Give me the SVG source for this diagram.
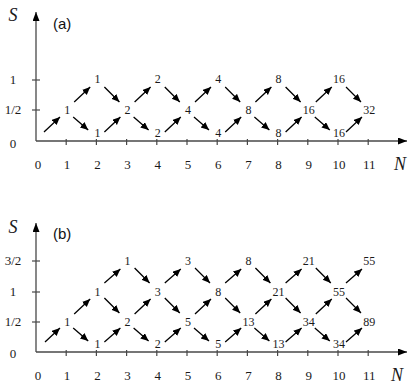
<svg xmlns="http://www.w3.org/2000/svg" width="416" height="390" viewBox="0 0 416 390">
<style>
.ax{stroke:#484848;stroke-width:1.3;fill:none}
.tk{stroke:#484848;stroke-width:1.2}
.arr line{stroke:#000;stroke-width:1.3}
.num{font-family:"Liberation Serif",serif;font-size:12px;fill:#1a1a1a;text-anchor:middle}
.lab{font-family:"Liberation Serif",serif;font-size:13px;fill:#1a1a1a;text-anchor:middle}
.var{font-family:"Liberation Serif",serif;font-size:18px;font-style:italic;fill:#1a1a1a;text-anchor:middle}
.pl{font-family:"Liberation Sans",Arial,sans-serif;font-size:15px;fill:#111}
</style>
<defs>
<marker id="ah" markerUnits="userSpaceOnUse" markerWidth="9" markerHeight="8" refX="8" refY="3.5" orient="auto"><path d="M0,0 L8,3.5 L0,7 Z" fill="#000"/></marker>
<marker id="axh" markerUnits="userSpaceOnUse" markerWidth="10" markerHeight="8" refX="9" refY="3.5" orient="auto"><path d="M0,0 L9,3.5 L0,7 Z" fill="#000"/></marker>
</defs>

<!-- Panel (a) axes -->
<g id="axes-a">
<line class="ax" x1="36" y1="141" x2="36" y2="12" marker-end="url(#axh)"/>
<line class="ax" x1="36" y1="141" x2="407" y2="141" marker-end="url(#axh)"/>
<line class="tk" x1="32" y1="80" x2="40" y2="80"/>
<line class="tk" x1="32" y1="110" x2="40" y2="110"/>
<line class="tk" x1="66.2" y1="139" x2="66.2" y2="145"/>
<line class="tk" x1="96.4" y1="139" x2="96.4" y2="145"/>
<line class="tk" x1="126.6" y1="139" x2="126.6" y2="145"/>
<line class="tk" x1="156.8" y1="139" x2="156.8" y2="145"/>
<line class="tk" x1="187" y1="139" x2="187" y2="145"/>
<line class="tk" x1="217.2" y1="139" x2="217.2" y2="145"/>
<line class="tk" x1="247.4" y1="139" x2="247.4" y2="145"/>
<line class="tk" x1="277.6" y1="139" x2="277.6" y2="145"/>
<line class="tk" x1="307.8" y1="139" x2="307.8" y2="145"/>
<line class="tk" x1="338" y1="139" x2="338" y2="145"/>
<line class="tk" x1="368.2" y1="139" x2="368.2" y2="145"/>
<text class="var" x="13" y="21">S</text>
<text class="pl" x="53" y="29">(a)</text>
<text class="lab" x="13" y="84">1</text>
<text class="lab" x="13" y="114">1/2</text>
<text class="lab" x="13" y="148">0</text>
<text class="lab" x="38" y="169">0</text>
<text class="lab" x="67" y="169">1</text>
<text class="lab" x="97.4" y="169">2</text>
<text class="lab" x="127.6" y="169">3</text>
<text class="lab" x="157.8" y="169">4</text>
<text class="lab" x="188" y="169">5</text>
<text class="lab" x="218.2" y="169">6</text>
<text class="lab" x="248.4" y="169">7</text>
<text class="lab" x="278.6" y="169">8</text>
<text class="lab" x="308.8" y="169">9</text>
<text class="lab" x="339" y="169">10</text>
<text class="lab" x="369.2" y="169">11</text>
<text class="var" x="400" y="170">N</text>
</g>

<!-- Panel (a) nodes -->
<g id="a-n1-h"><text class="num" x="67.2" y="114">1</text></g>
<g id="a-n2-1"><text class="num" x="97.4" y="83">1</text></g>
<g id="a-n2-0"><text class="num" x="97.4" y="137">1</text></g>
<g id="a-n3-h"><text class="num" x="127.6" y="114">2</text></g>
<g id="a-n4-1"><text class="num" x="157.8" y="83">2</text></g>
<g id="a-n4-0"><text class="num" x="157.8" y="137">2</text></g>
<g id="a-n5-h"><text class="num" x="188" y="114">4</text></g>
<g id="a-n6-1"><text class="num" x="218.2" y="83">4</text></g>
<g id="a-n6-0"><text class="num" x="218.2" y="137">4</text></g>
<g id="a-n7-h"><text class="num" x="248.4" y="114">8</text></g>
<g id="a-n8-1"><text class="num" x="278.6" y="83">8</text></g>
<g id="a-n8-0"><text class="num" x="278.6" y="137">8</text></g>
<g id="a-n9-h"><text class="num" x="308.8" y="114">16</text></g>
<g id="a-n10-1"><text class="num" x="339" y="83">16</text></g>
<g id="a-n10-0"><text class="num" x="339" y="137">16</text></g>
<g id="a-n11-h"><text class="num" x="369.2" y="114">32</text></g>

<!-- Panel (a) connectors -->
<g id="connectors-a" class="arr" marker-end="url(#ah)">
<line x1="44" y1="132" x2="60" y2="117" marker-end="url(#ah)"/>
<line x1="104.4" y1="132" x2="120.4" y2="117" marker-end="url(#ah)"/>
<line x1="164.8" y1="132" x2="180.8" y2="117" marker-end="url(#ah)"/>
<line x1="225.2" y1="132" x2="241.2" y2="117" marker-end="url(#ah)"/>
<line x1="285.6" y1="132" x2="301.6" y2="117" marker-end="url(#ah)"/>
<line x1="346" y1="132" x2="362" y2="117" marker-end="url(#ah)"/>
<line x1="73.2" y1="117" x2="88.2" y2="130" marker-end="url(#ah)"/>
<line x1="133.6" y1="117" x2="148.6" y2="130" marker-end="url(#ah)"/>
<line x1="194" y1="117" x2="209" y2="130" marker-end="url(#ah)"/>
<line x1="254.4" y1="117" x2="269.4" y2="130" marker-end="url(#ah)"/>
<line x1="314.8" y1="117" x2="329.8" y2="130" marker-end="url(#ah)"/>
<line x1="74.2" y1="102" x2="90.2" y2="87" marker-end="url(#ah)"/>
<line x1="134.6" y1="102" x2="150.6" y2="87" marker-end="url(#ah)"/>
<line x1="195" y1="102" x2="211" y2="87" marker-end="url(#ah)"/>
<line x1="255.4" y1="102" x2="271.4" y2="87" marker-end="url(#ah)"/>
<line x1="315.8" y1="102" x2="331.8" y2="87" marker-end="url(#ah)"/>
<line x1="104.4" y1="87" x2="119.4" y2="102" marker-end="url(#ah)"/>
<line x1="164.8" y1="87" x2="179.8" y2="102" marker-end="url(#ah)"/>
<line x1="225.2" y1="87" x2="240.2" y2="102" marker-end="url(#ah)"/>
<line x1="285.6" y1="87" x2="300.6" y2="102" marker-end="url(#ah)"/>
<line x1="346" y1="87" x2="361" y2="102" marker-end="url(#ah)"/>
</g>

<!-- Panel (b) axes -->
<g id="axes-b">
<line class="ax" x1="36" y1="352" x2="36" y2="223" marker-end="url(#axh)"/>
<line class="ax" x1="36" y1="352" x2="407" y2="352" marker-end="url(#axh)"/>
<line class="tk" x1="32" y1="261" x2="40" y2="261"/>
<line class="tk" x1="32" y1="292" x2="40" y2="292"/>
<line class="tk" x1="32" y1="322" x2="40" y2="322"/>
<line class="tk" x1="66.2" y1="350" x2="66.2" y2="356"/>
<line class="tk" x1="96.4" y1="350" x2="96.4" y2="356"/>
<line class="tk" x1="126.6" y1="350" x2="126.6" y2="356"/>
<line class="tk" x1="156.8" y1="350" x2="156.8" y2="356"/>
<line class="tk" x1="187" y1="350" x2="187" y2="356"/>
<line class="tk" x1="217.2" y1="350" x2="217.2" y2="356"/>
<line class="tk" x1="247.4" y1="350" x2="247.4" y2="356"/>
<line class="tk" x1="277.6" y1="350" x2="277.6" y2="356"/>
<line class="tk" x1="307.8" y1="350" x2="307.8" y2="356"/>
<line class="tk" x1="338" y1="350" x2="338" y2="356"/>
<line class="tk" x1="368.2" y1="350" x2="368.2" y2="356"/>
<text class="var" x="13" y="233">S</text>
<text class="pl" x="53" y="239">(b)</text>
<text class="lab" x="13" y="265">3/2</text>
<text class="lab" x="13" y="296">1</text>
<text class="lab" x="13" y="326">1/2</text>
<text class="lab" x="13" y="358">0</text>
<text class="lab" x="38" y="380">0</text>
<text class="lab" x="67" y="380">1</text>
<text class="lab" x="97.4" y="380">2</text>
<text class="lab" x="127.6" y="380">3</text>
<text class="lab" x="157.8" y="380">4</text>
<text class="lab" x="188" y="380">5</text>
<text class="lab" x="218.2" y="380">6</text>
<text class="lab" x="248.4" y="380">7</text>
<text class="lab" x="278.6" y="380">8</text>
<text class="lab" x="308.8" y="380">9</text>
<text class="lab" x="339" y="380">10</text>
<text class="lab" x="369.2" y="380">11</text>
<text class="var" x="397" y="381">N</text>
</g>

<!-- Panel (b) nodes -->
<g id="b-n1-h"><text class="num" x="67.2" y="326">1</text></g>
<g id="b-n2-1"><text class="num" x="97.4" y="296">1</text></g>
<g id="b-n2-0"><text class="num" x="97.4" y="348">1</text></g>
<g id="b-n3-3h"><text class="num" x="127.6" y="265">1</text></g>
<g id="b-n3-h"><text class="num" x="127.6" y="326">2</text></g>
<g id="b-n4-1"><text class="num" x="157.8" y="296">3</text></g>
<g id="b-n4-0"><text class="num" x="157.8" y="348">2</text></g>
<g id="b-n5-3h"><text class="num" x="188" y="265">3</text></g>
<g id="b-n5-h"><text class="num" x="188" y="326">5</text></g>
<g id="b-n6-1"><text class="num" x="218.2" y="296">8</text></g>
<g id="b-n6-0"><text class="num" x="218.2" y="348">5</text></g>
<g id="b-n7-3h"><text class="num" x="248.4" y="265">8</text></g>
<g id="b-n7-h"><text class="num" x="248.4" y="326">13</text></g>
<g id="b-n8-1"><text class="num" x="278.6" y="296">21</text></g>
<g id="b-n8-0"><text class="num" x="278.6" y="348">13</text></g>
<g id="b-n9-3h"><text class="num" x="308.8" y="265">21</text></g>
<g id="b-n9-h"><text class="num" x="308.8" y="326">34</text></g>
<g id="b-n10-1"><text class="num" x="339" y="296">55</text></g>
<g id="b-n10-0"><text class="num" x="339" y="348">34</text></g>
<g id="b-n11-3h"><text class="num" x="369.2" y="265">55</text></g>
<g id="b-n11-h"><text class="num" x="369.2" y="326">89</text></g>

<!-- Panel (b) connectors -->
<g id="connectors-b" class="arr">
<line x1="45" y1="342" x2="60" y2="328" marker-end="url(#ah)"/>
<line x1="104.4" y1="342" x2="120.4" y2="328" marker-end="url(#ah)"/>
<line x1="164.8" y1="342" x2="180.8" y2="328" marker-end="url(#ah)"/>
<line x1="225.2" y1="342" x2="241.2" y2="328" marker-end="url(#ah)"/>
<line x1="285.6" y1="342" x2="301.6" y2="328" marker-end="url(#ah)"/>
<line x1="346" y1="342" x2="362" y2="328" marker-end="url(#ah)"/>
<line x1="73.2" y1="328" x2="88.2" y2="341" marker-end="url(#ah)"/>
<line x1="133.6" y1="328" x2="148.6" y2="341" marker-end="url(#ah)"/>
<line x1="194" y1="328" x2="209" y2="341" marker-end="url(#ah)"/>
<line x1="254.4" y1="328" x2="269.4" y2="341" marker-end="url(#ah)"/>
<line x1="314.8" y1="328" x2="329.8" y2="341" marker-end="url(#ah)"/>
<line x1="74.2" y1="314" x2="90.2" y2="299" marker-end="url(#ah)"/>
<line x1="134.6" y1="314" x2="150.6" y2="299" marker-end="url(#ah)"/>
<line x1="195" y1="314" x2="211" y2="299" marker-end="url(#ah)"/>
<line x1="255.4" y1="314" x2="271.4" y2="299" marker-end="url(#ah)"/>
<line x1="315.8" y1="314" x2="331.8" y2="299" marker-end="url(#ah)"/>
<line x1="104.4" y1="298" x2="119.4" y2="313" marker-end="url(#ah)"/>
<line x1="164.8" y1="298" x2="179.8" y2="313" marker-end="url(#ah)"/>
<line x1="225.2" y1="298" x2="240.2" y2="313" marker-end="url(#ah)"/>
<line x1="285.6" y1="298" x2="300.6" y2="313" marker-end="url(#ah)"/>
<line x1="346" y1="298" x2="361" y2="313" marker-end="url(#ah)"/>
<line x1="104.4" y1="283" x2="120.4" y2="269" marker-end="url(#ah)"/>
<line x1="164.8" y1="283" x2="180.8" y2="269" marker-end="url(#ah)"/>
<line x1="225.2" y1="283" x2="241.2" y2="269" marker-end="url(#ah)"/>
<line x1="285.6" y1="283" x2="301.6" y2="269" marker-end="url(#ah)"/>
<line x1="346" y1="283" x2="362" y2="269" marker-end="url(#ah)"/>
<line x1="134.6" y1="268" x2="149.6" y2="283" marker-end="url(#ah)"/>
<line x1="195" y1="268" x2="210" y2="283" marker-end="url(#ah)"/>
<line x1="255.4" y1="268" x2="270.4" y2="283" marker-end="url(#ah)"/>
<line x1="315.8" y1="268" x2="330.8" y2="283" marker-end="url(#ah)"/>
</g>
</svg>
